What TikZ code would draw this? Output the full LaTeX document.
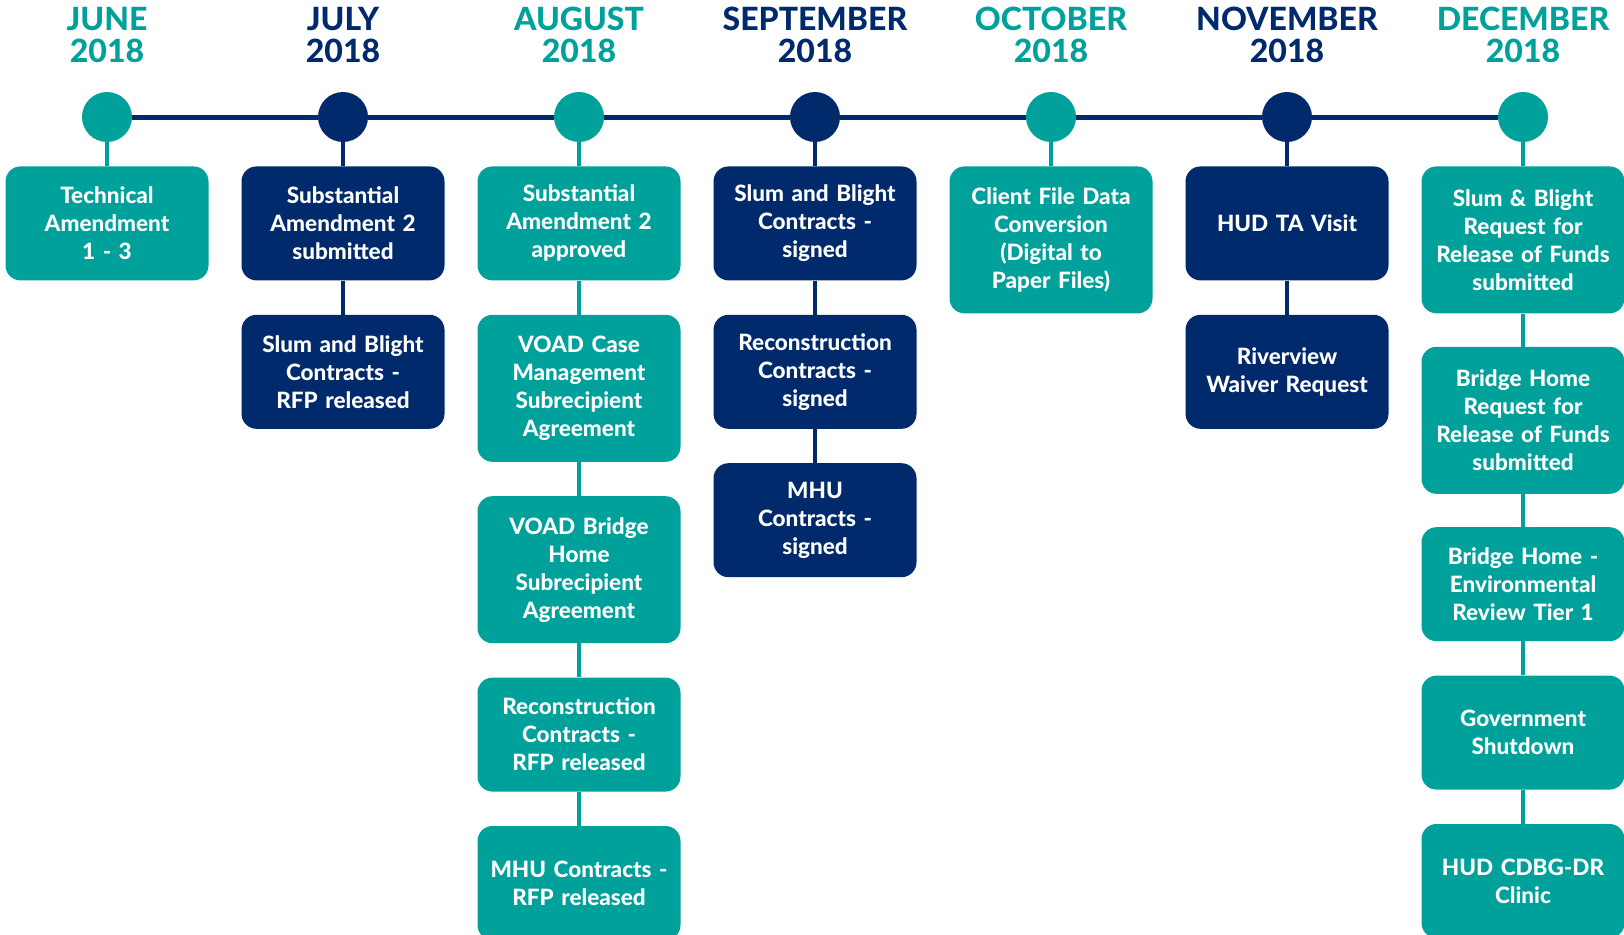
\documentclass[tikz,border=0pt]{standalone}
\usepackage{fontspec}
\setmainfont{Lato}[BoldFont={Lato Heavy}]
\usetikzlibrary{positioning}
\definecolor{hudteal}{RGB}{0,161,154}
\definecolor{hudnavy}{RGB}{0,42,108}

\tikzset{
  month/.style={font=\fontsize{32}{32}\selectfont\bfseries, align=center, inner sep=0pt, anchor=north},
  mdot/.style={circle, minimum size=50pt, inner sep=0pt},
  event/.style={rounded corners=15pt, minimum width=203pt, minimum height=114pt, text width=199pt,
    align=center, inner sep=0pt, text=white, font=\fontsize{22.5}{28}\selectfont\bfseries},
  tall/.style={minimum height=147pt},
  link/.style={line width=4pt},
}

\begin{document}
\begin{tikzpicture}[x=1pt,y=1pt,node distance=34pt]
\useasboundingbox (0,0) rectangle (1624,-934);
\pgfmathsetmacro{\colstep}{236};

% months and dots
\foreach \mon/\col [count=\i] in {JUNE/hudteal,JULY/hudnavy,AUGUST/hudteal,SEPTEMBER/hudnavy,
    OCTOBER/hudteal,NOVEMBER/hudnavy,DECEMBER/hudteal} {
  \pgfmathsetmacro{\xx}{107+(\i-1)*\colstep}
  \node[month, text=\col] (head\i) at (\xx,-7) {\mon\\2018};
  \node[mdot, fill=\col] (dot\i) at (\xx,-117) {};
}
\foreach \i [evaluate=\i as \j using int(\i+1)] in {1,...,6}
  \draw[hudnavy, line width=5pt] (dot\i) -- (dot\j);

% June
\node[event, fill=hudteal, below=24pt of dot1] (jun1) {Technical\\Amendment\\1 - 3};
\draw[link, hudteal] (dot1) -- (jun1);

% July
\node[event, fill=hudnavy, below=24pt of dot2] (jul1) {Substantial\\Amendment 2\\submitted};
\node[event, fill=hudnavy, below=of jul1] (jul2) {Slum and Blight\\Contracts -\\RFP released};
\draw[link, hudnavy] (dot2) -- (jul1) (jul1) -- (jul2);

% August
\node[event, fill=hudteal, below=24pt of dot3] (aug1) {Substantial\\Amendment 2\\approved};
\node[event, tall, fill=hudteal, below=of aug1] (aug2) {VOAD Case\\Management\\Subrecipient\\Agreement};
\node[event, tall, fill=hudteal, below=of aug2] (aug3) {VOAD Bridge\\Home\\Subrecipient\\Agreement};
\node[event, fill=hudteal, below=of aug3] (aug4) {Reconstruction\\Contracts -\\RFP released};
\node[event, fill=hudteal, below=of aug4] (aug5) {MHU Contracts -\\RFP released};
\draw[link, hudteal] (dot3) -- (aug1) (aug1) -- (aug2) (aug2) -- (aug3) (aug3) -- (aug4) (aug4) -- (aug5);

% September
\node[event, fill=hudnavy, below=24pt of dot4] (sep1) {Slum and Blight\\Contracts -\\signed};
\node[event, fill=hudnavy, below=of sep1] (sep2) {Reconstruction\\Contracts -\\signed};
\node[event, fill=hudnavy, below=of sep2] (sep3) {MHU\\Contracts -\\signed};
\draw[link, hudnavy] (dot4) -- (sep1) (sep1) -- (sep2) (sep2) -- (sep3);

% October
\node[event, tall, fill=hudteal, below=24pt of dot5] (oct1) {Client File Data\\Conversion\\(Digital to\\Paper Files)};
\draw[link, hudteal] (dot5) -- (oct1);

% November
\node[event, fill=hudnavy, below=24pt of dot6] (nov1) {HUD TA Visit};
\node[event, fill=hudnavy, below=of nov1] (nov2) {Riverview\\Waiver Request};
\draw[link, hudnavy] (dot6) -- (nov1) (nov1) -- (nov2);

% December
\node[event, tall, fill=hudteal, below=24pt of dot7] (dec1) {Slum \& Blight\\Request for\\Release of Funds\\submitted};
\node[event, tall, fill=hudteal, below=33pt of dec1] (dec2) {Bridge Home\\Request for\\Release of Funds\\submitted};
\node[event, fill=hudteal, below=33pt of dec2] (dec3) {Bridge Home -\\Environmental\\Review Tier 1};
\node[event, fill=hudteal, below=of dec3] (dec4) {Government\\Shutdown};
\node[event, fill=hudteal, below=of dec4] (dec5) {HUD CDBG-DR\\Clinic};
\draw[link, hudteal] (dot7) -- (dec1) (dec1) -- (dec2) (dec2) -- (dec3) (dec3) -- (dec4) (dec4) -- (dec5);
\end{tikzpicture}
\end{document}
